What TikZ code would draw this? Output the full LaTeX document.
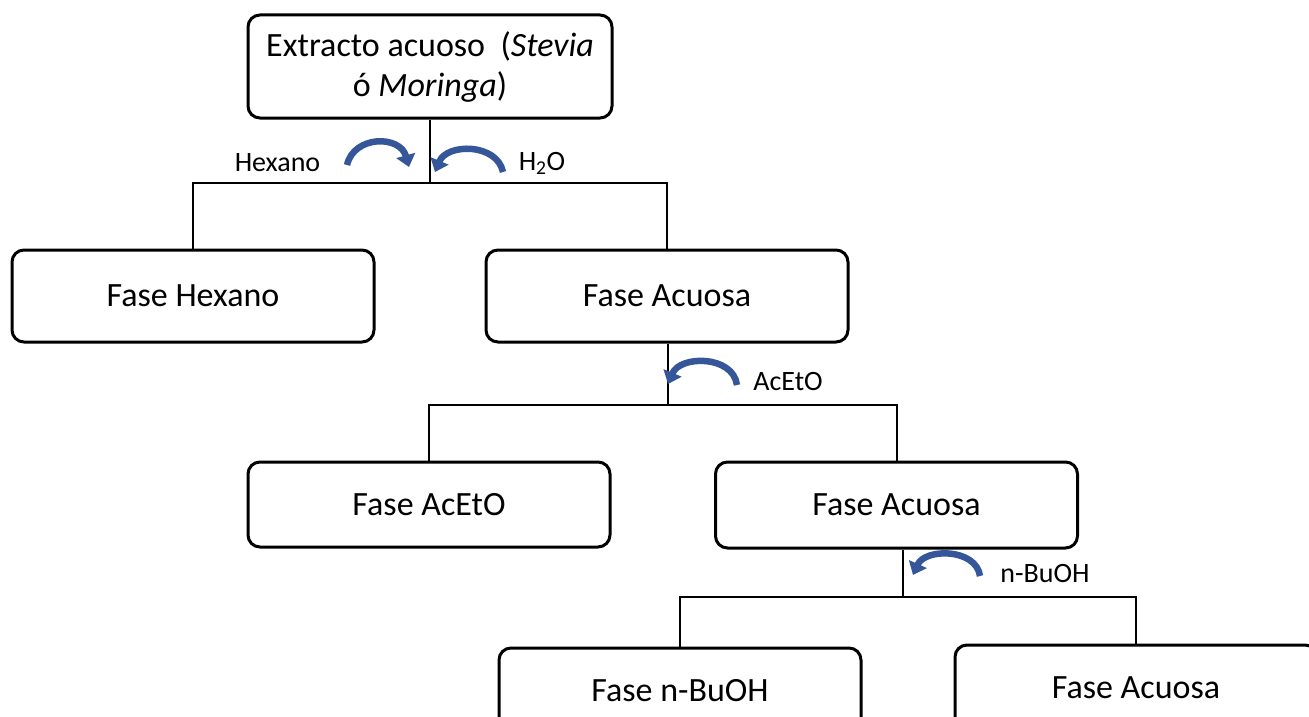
\documentclass[tikz,border=0pt]{standalone}
\usepackage{fontspec}
\setmainfont{Carlito}
\usetikzlibrary{arrows.meta,positioning,calc}
\definecolor{swirlblue}{HTML}{35579A}

\begin{document}
\begin{tikzpicture}[x=1pt, y=-1pt,
  box/.style={rectangle, rounded corners=12pt, draw, line width=3pt, inner sep=0pt, minimum width=362pt, minimum height=92pt, align=center, font=\fontsize{34}{40}\selectfont},
  conn/.style={line width=2pt},
  lbl/.style={inner sep=0pt, font=\fontsize{28}{33}\selectfont},
  swirl/.style={-{Triangle[width=19pt,length=12pt]}, line width=6.5pt, swirlblue}
]
  \useasboundingbox (0,0) rectangle (1309,717);
  \clip (0,0) rectangle (1309,717);
  % boxes
  \node[box, minimum width=364pt, minimum height=103pt] (top) at (430,66.5) {Extracto acuoso\ \ (\textit{Stevia}\\ó \textit{Moringa})};
  \node[box] (hex)  at (193,296)   {Fase Hexano};
  \node[box] (acu1) at (667,296)   {Fase Acuosa};
  \node[box, minimum height=85pt] (acet) at (429,504.5) {Fase AcEtO};
  \node[box, minimum height=86pt] (acu2) at (896.5,505) {Fase Acuosa};
  \node[box, minimum height=86pt] (nbu)  at (680,691) {Fase n-BuOH};
  \node[box, minimum height=86pt] (acu3) at (1136,688) {Fase Acuosa};
  % junctions
  \coordinate (j1) at (430,183);
  \coordinate (j2) at (668,405);
  \coordinate (j3) at (903,597);
  \draw[conn] (top.south) -- (j1);
  \draw[conn] (hex.north) |- (j1) -| (acu1.north);
  \draw[conn] (j2 |- acu1.south) -- (j2);
  \draw[conn] (acet.north) |- (j2) -| (acu2.north);
  \draw[conn] (j3 |- acu2.south) -- (j3);
  \draw[conn] (nbu.north) |- (j3) -| (acu3.north);
  % solvents
  \node[lbl] (hexlbl) at (277.5,163) {Hexano};
  \node[lbl] (h2o)    at (542,163) {H\textsubscript{2}O};
  \node[lbl] (etlbl)  at (788,382) {AcEtO};
  \node[lbl] (bulbl)  at (1045,574) {n-BuOH};
  \draw[swirl] (347,165) .. controls (354,135) and (400,135) .. (409,167);
  \draw[swirl] (503,172) .. controls (497,143) and (447,143) .. (435,172);
  \draw[swirl] (737,385) .. controls (733,355) and (680,355) .. (668,384);
  \draw[swirl] (980,576) .. controls (976,548) and (925,548) .. (913,575);
\end{tikzpicture}
\end{document}
